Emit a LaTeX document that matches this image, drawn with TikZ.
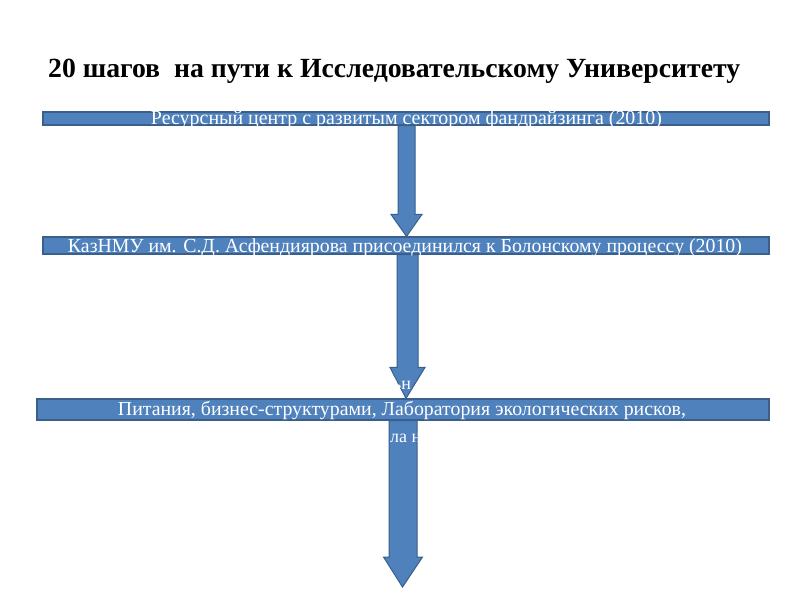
\documentclass[tikz,border=0pt]{standalone}
\usepackage{fontspec}
\setmainfont{Liberation Serif}
\usetikzlibrary{calc}
\definecolor{barfill}{HTML}{4F81BD}
\definecolor{barline}{HTML}{3A5F8B}
\newcommand\blockarr[5]{\draw[blockarrow] let \p1=(#1), \p2=(#2) in
  (\x1-#3pt,\y1) -- (\x1+#3pt,\y1) -- (\x1+#3pt,\y2+#5pt) -- (\x1+#4pt,\y2+#5pt)
  -- (\x2,\y2) -- (\x1-#4pt,\y2+#5pt) -- (\x1-#3pt,\y2+#5pt) -- cycle;}
\begin{document}
\begin{tikzpicture}[x=1pt,y=-1pt,
  bar/.style={draw=barline,line width=1.2pt,fill=barfill,inner sep=0pt,rectangle},
  blockarrow/.style={draw=barline,line width=1pt,fill=barfill,line join=miter},
  bartext/.style={text=white,inner sep=0pt,anchor=base},
  titletext/.style={text=black,inner sep=0pt,anchor=base west,font=\bfseries}]
\useasboundingbox (0,0) rectangle (800,600);
\fill[white] (0,0) rectangle (800,600);
% title
\node[titletext] (title) at (48,77) {\resizebox{692pt}{!}{20 шагов\ \ на пути к Исследовательскому Университету}};
% bars
\node[bar,minimum width=726pt,minimum height=13pt] (b1) at (406,118.5) {};
\node[bar,minimum width=726pt,minimum height=17pt] (b2) at (406,245.5) {};
\node[bar,minimum width=732pt,minimum height=21pt] (b3) at (403,409.5) {};
% arrows
\coordinate (a1s) at (406.5,0 |- b1.south);
\coordinate (a1e) at (406.5,0 |- b2.north);
\coordinate (a2s) at (407.5,0 |- b2.south);
\coordinate (a2e) at (406,0 |- b3.north);
\coordinate (a3s) at (403,0 |- b3.south);
\coordinate (a3e) at (402.5,587);
\blockarr{a1s}{a1e}{8.5}{15.5}{22}
\blockarr{a2s}{a2e}{10.5}{17.5}{31}
\blockarr{a3s}{a3e}{14}{19.5}{30}
% texts
\node[bartext] (t1) at (406.5,124.5) {\resizebox{511pt}{!}{Ресурсный центр с развитым сектором фандрайзинга (2010)}};
\node[bartext] (t2) at (405,252.5) {\resizebox{674pt}{!}{КазНМУ им. С.Д. Асфендиярова присоединился к Болонскому процессу (2010)}};
\node[bartext] (t3) at (402,415.5) {\resizebox{568pt}{!}{Питания, бизнес-структурами, Лаборатория экологических рисков,}};
\node[bartext,anchor=base west,font=\fontsize{18}{20}\selectfont] (t4) at (393,389) {ьн};
\node[bartext,anchor=base west,font=\fontsize{18}{20}\selectfont] (t5) at (390,442) {ла н};
\end{tikzpicture}
\end{document}
